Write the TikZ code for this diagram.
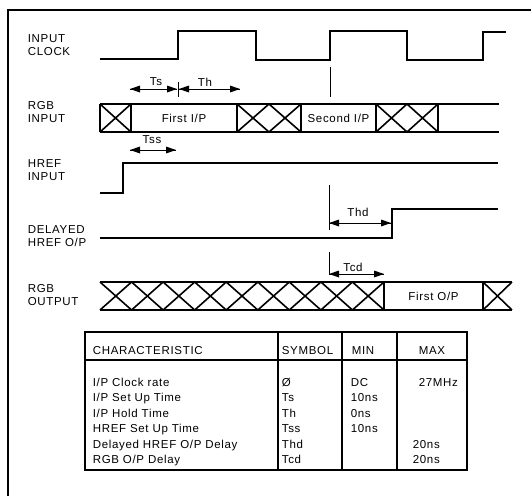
\documentclass[tikz,border=0pt]{standalone}
\usepackage{fontspec}
\setmainfont{Liberation Sans}[LetterSpace=6.0]
\usepackage{tikz}

\begin{document}
\begin{tikzpicture}[x=1pt,y=1pt,line width=1.6pt,
  dim/.style={line width=0.9pt},
  siglabel/.style={anchor=west,align=left,font=\fontsize{11.5}{13}\selectfont},
  dimtext/.style={anchor=base,font=\fontsize{11.5}{13}\selectfont},
  cell/.style={font=\fontsize{11.5}{13}\selectfont},
  entry/.style={anchor=base west,font=\fontsize{11.5}{13}\selectfont}]
\tikzstyle{every node}+=[inner sep=0pt]
\useasboundingbox (0,0) rectangle (531,-496);
% frame
\draw [black, line width=1.2pt] (8,-496) -- (8,-10) -- (531,-10);
% signal names
\node [siglabel] (clkname) at (27,-45) {INPUT\\CLOCK};
\node [siglabel] (rgbinname) at (27,-112) {RGB\\INPUT};
\node [siglabel] (hrefname) at (27,-170) {HREF\\INPUT};
\node [siglabel] (delname) at (27,-236) {DELAYED\\HREF O/P};
\node [siglabel] (rgboutname) at (27,-295) {RGB\\OUTPUT};
% input clock
\draw [black] (100,-59) -- (178,-59) -- (178,-31) -- (256,-31) -- (256,-60) -- (330,-60) -- (330,-31) -- (407,-31) -- (407,-60) -- (483,-60) -- (483,-32) -- (506,-32);
% Ts and Th
\coordinate (tickA) at (178,-82);
\coordinate (tickB) at (178,-97);
\coordinate (tsA) at (130,-89);
\coordinate (tsB) at (177,-89);
\coordinate (thA) at (179,-89);
\coordinate (thB) at (240,-89);
\draw [black, dim] (tickA) -- (tickB);
\draw [black, dim] (tsA) -- (tsB);
\fill [black] (tsA) -- ++(10,3.5) -- ++(0,-7) -- cycle;
\fill [black] (tsB) -- ++(-10,3.5) -- ++(0,-7) -- cycle;
\draw [black, dim] (thA) -- (thB);
\fill [black] (thA) -- ++(10,3.5) -- ++(0,-7) -- cycle;
\fill [black] (thB) -- ++(-10,3.5) -- ++(0,-7) -- cycle;
\node [dimtext] (tslab) at (156,-85) {Ts};
\node [dimtext] (thlab) at (205,-86) {Th};
\coordinate (mkA) at (330,-67);
\coordinate (mkB) at (330,-97);
\draw [black, dim] (mkA) -- (mkB);
% RGB input
\draw [black] (100,-104) -- (499,-104);
\draw [black] (100,-132) -- (499,-132);
\draw [black] (100,-104) -- (100,-132);
\draw [black] (131,-104) -- (131,-132);
\draw [black] (237,-104) -- (237,-132);
\draw [black] (301,-104) -- (301,-132);
\draw [black] (376,-104) -- (376,-132);
\draw [black] (438,-104) -- (438,-132);
\draw [black] (100,-104) -- (131,-132);
\draw [black] (100,-132) -- (131,-104);
\draw [black] (237,-104) -- (269,-132) -- (301,-104);
\draw [black] (237,-132) -- (269,-104) -- (301,-132);
\draw [black] (376,-104) -- (407,-132) -- (438,-104);
\draw [black] (376,-132) -- (407,-104) -- (438,-132);
\node [cell] (firstin) at (184,-118) {First I/P};
\node [cell] (secondin) at (338.5,-118) {Second I/P};
% HREF input
\draw [black] (100,-193) -- (123,-193) -- (123,-163) -- (498,-163);
\coordinate (tssA) at (130,-150);
\coordinate (tssB) at (176,-150);
\draw [black, dim] (tssA) -- (tssB);
\fill [black] (tssA) -- ++(10,3.5) -- ++(0,-7) -- cycle;
\fill [black] (tssB) -- ++(-10,3.5) -- ++(0,-7) -- cycle;
\node [dimtext] (tsslab) at (152,-143) {Tss};
% delayed HREF
\draw [black] (100,-238) -- (392,-238) -- (392,-209) -- (498,-209);
\coordinate (thdT) at (329,-185);
\coordinate (thdU) at (329,-230);
\coordinate (thdA) at (329,-223);
\coordinate (thdB) at (391,-223);
\draw [black, dim] (thdT) -- (thdU);
\draw [black, dim] (thdA) -- (thdB);
\fill [black] (thdA) -- ++(10,3.5) -- ++(0,-7) -- cycle;
\fill [black] (thdB) -- ++(-10,3.5) -- ++(0,-7) -- cycle;
\node [dimtext] (thdlab) at (358,-216) {Thd};
% RGB output
\coordinate (tcdT) at (329,-252);
\coordinate (tcdA) at (329,-274);
\coordinate (tcdB) at (384,-274);
\draw [black, dim] (tcdT) -- (tcdA) -- (tcdB);
\fill [black] (tcdA) -- ++(10,3.5) -- ++(0,-7) -- cycle;
\fill [black] (tcdB) -- ++(-10,3.5) -- ++(0,-7) -- cycle;
\node [dimtext] (tcdlab) at (353,-271) {Tcd};
\draw [black] (100,-282) -- (512,-282);
\draw [black] (100,-310) -- (512,-310);
\draw [black] (384,-282) -- (384,-310);
\draw [black] (483,-282) -- (483,-310);
\draw [black] (100,-282) -- (131.6,-310) -- (163.1,-282) -- (194.7,-310) -- (226.2,-282) -- (257.8,-310) -- (289.3,-282) -- (320.9,-310) -- (352.4,-282) -- (384,-310);
\draw [black] (100,-310) -- (131.6,-282) -- (163.1,-310) -- (194.7,-282) -- (226.2,-310) -- (257.8,-282) -- (289.3,-310) -- (320.9,-282) -- (352.4,-310) -- (384,-282);
\draw [black] (483,-282) -- (512,-310);
\draw [black] (483,-310) -- (512,-282);
\node [cell] (firstout) at (433.5,-296) {First O/P};
% table
\draw [black, line width=1.2pt] (85,-332) rectangle (467,-470);
\draw [black, line width=1.2pt] (85,-360) -- (467,-360);
\draw [black, line width=1.8pt] (278,-332) -- (278,-470);
\draw [black, line width=1.8pt] (342,-332) -- (342,-470);
\draw [black, line width=1.2pt] (397,-332) -- (397,-470);
\node [entry] (hchar) at (92,-354) {CHARACTERISTIC};
\node [entry] (hsym) at (281,-354) {SYMBOL};
\node [entry] (hmin) at (351,-354) {MIN};
\node [entry] (hmax) at (418,-354) {MAX};
\node [entry] (c1) at (92,-386) {I/P Clock rate};
\node [entry] (c2) at (92,-401) {I/P Set Up Time};
\node [entry] (c3) at (92,-417) {I/P Hold Time};
\node [entry] (c4) at (92,-432) {HREF Set Up Time};
\node [entry] (c5) at (92,-448) {Delayed HREF O/P Delay};
\node [entry] (c6) at (92,-463) {RGB O/P Delay};
\node [entry] (s1) at (281,-386) {Ø};
\node [entry] (s2) at (281,-401) {Ts};
\node [entry] (s3) at (281,-417) {Th};
\node [entry] (s4) at (281,-432) {Tss};
\node [entry] (s5) at (281,-448) {Thd};
\node [entry] (s6) at (281,-463) {Tcd};
\node [entry] (m1) at (350,-386) {DC};
\node [entry] (m2) at (350,-401) {10ns};
\node [entry] (m3) at (350,-417) {0ns};
\node [entry] (m4) at (350,-432) {10ns};
\node [entry] (x1) at (418,-386) {27MHz};
\node [entry] (x5) at (412,-448) {20ns};
\node [entry] (x6) at (412,-463) {20ns};
\end{tikzpicture}
\end{document}
